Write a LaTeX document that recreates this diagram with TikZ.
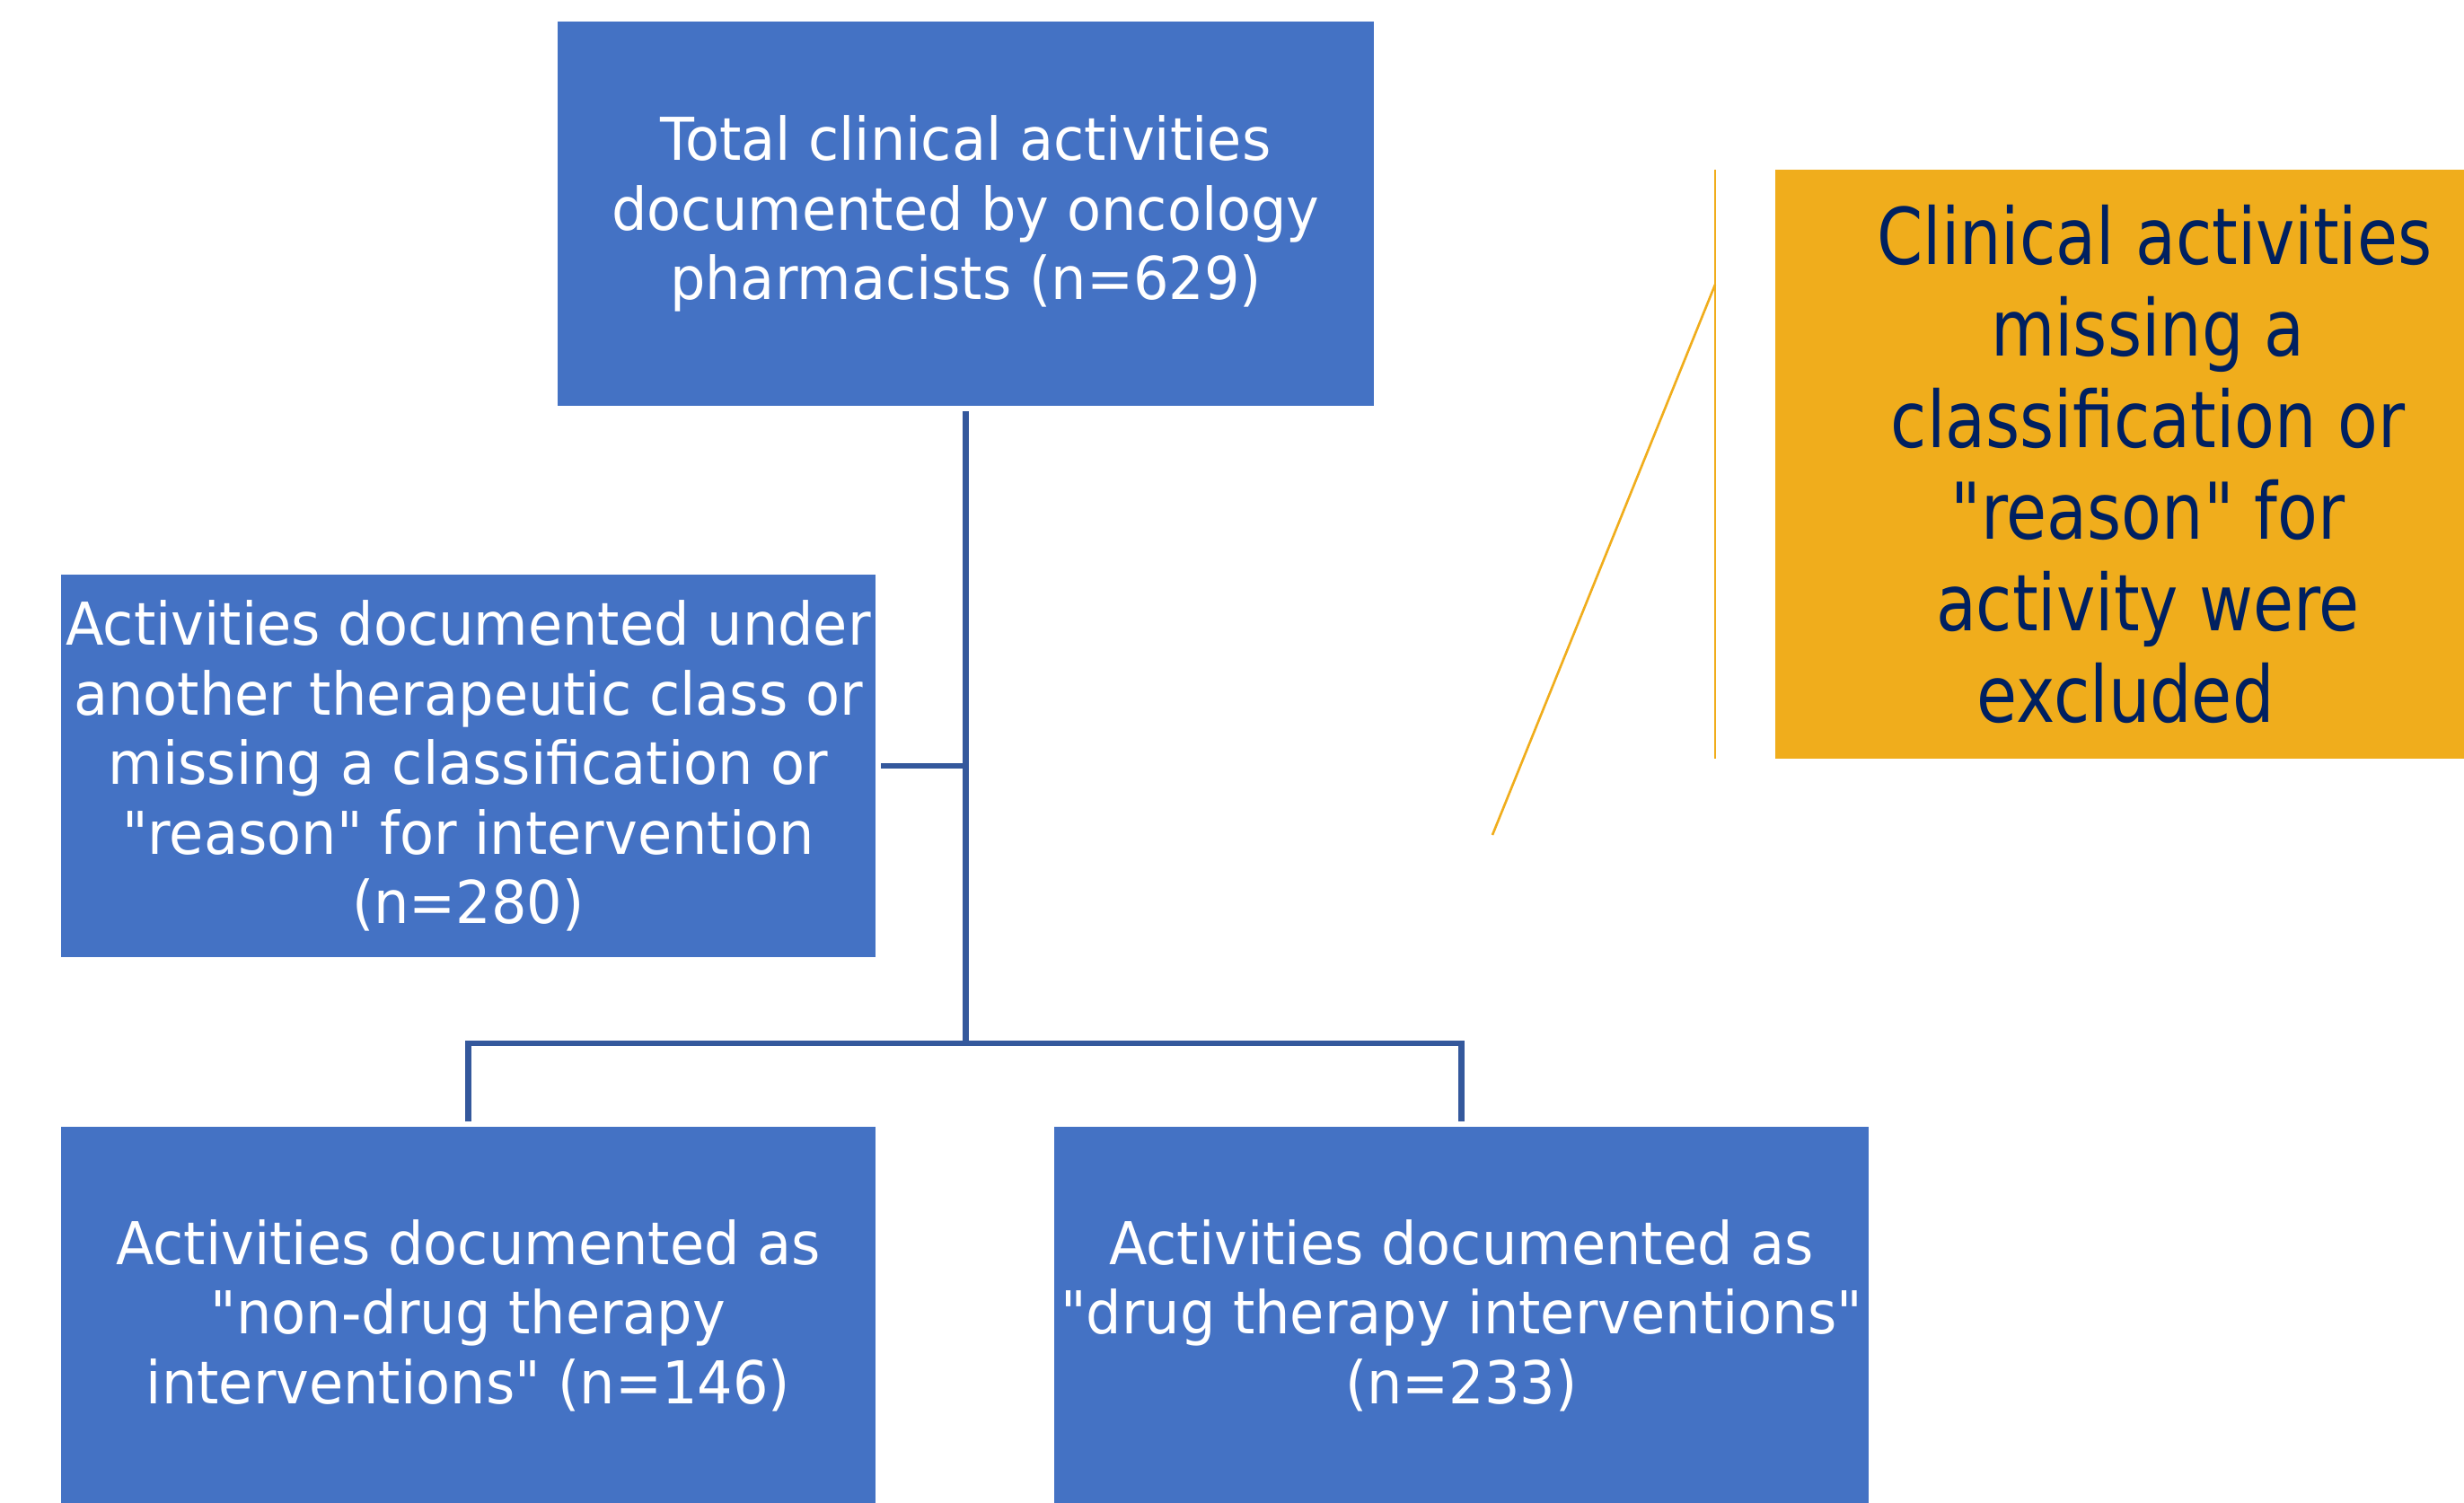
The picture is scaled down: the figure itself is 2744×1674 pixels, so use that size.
\documentclass[tikz,border=0pt]{standalone}
\usepackage{fontspec}
\setmainfont{DejaVu Sans}
\newfontfamily\boxfont[FakeStretch=0.945]{DejaVu Sans}
\newfontfamily\notefont[FakeStretch=0.84]{DejaVu Sans}
\usetikzlibrary{positioning, calc}
\definecolor{boxblue}{RGB}{68,114,196}
\definecolor{linkblue}{RGB}{52,88,156}
\definecolor{noteorange}{RGB}{240,173,28}
\definecolor{notenavy}{RGB}{0,32,96}

\begin{document}
\begin{tikzpicture}[x=0.01cm, y=-0.01cm,
  stage/.style={fill=boxblue, text=white, align=center, inner sep=0pt,
        outer sep=1.7pt, minimum width=9.07cm, minimum height=4.26cm,
        font=\boxfont\fontsize{18.7}{22}\selectfont},
  link/.style={draw=linkblue, line width=1.9pt},
  callout/.style={draw=noteorange, line width=0.75pt}]
  \useasboundingbox (0,0) rectangle (2744,1674);

  % Flow boxes
  \node[stage, minimum width=9.09cm, minimum height=4.28cm] (total) at (1075.5, 238)
    {Total clinical activities\\documented by oncology\\pharmacists (n=629)};
  \node[stage] (other) at (521.5, 853)
    {Activities documented under\\another therapeutic class or\\missing a classification or\\"reason" for intervention\\(n=280)};
  \node[stage, minimum height=4.20cm] (nondrug) at (521.5, 1465)
    {Activities documented as\\"non-drug therapy\\interventions" (n=146)};
  \node[stage, minimum height=4.20cm] (drug) at (1627.5, 1465)
    {Activities documented as\\"drug therapy interventions"\\(n=233)};

  % Connectors
  \coordinate (fork) at (1075.5, 1162);
  \draw[link] (total.south) -- (fork);
  \draw[link] (other.east) -- (other.east -| fork);
  \draw[link] (nondrug.north) |- (fork) -| (drug.north);

  % Exclusion note with callout
  \node[fill=noteorange, text=notenavy, align=center, inner sep=0pt,
        minimum width=8.30cm, minimum height=6.56cm,
        font=\notefont\fontsize{24.8}{29}\selectfont] (excl) at (2392, 517)
    {\hspace*{0.15cm}Clinical activities\\missing a\\classification or\\"reason" for\\activity were\\excluded\hspace*{0.5cm}};
  \coordinate (barTop) at (1910, 189);
  \coordinate (barBot) at (1910, 845);
  \coordinate (elbow) at (1910, 317);
  \coordinate (tip) at (1662, 930);
  \draw[callout] (barTop) -- (barBot);
  \draw[callout] (elbow) -- (tip);
\end{tikzpicture}
\end{document}
